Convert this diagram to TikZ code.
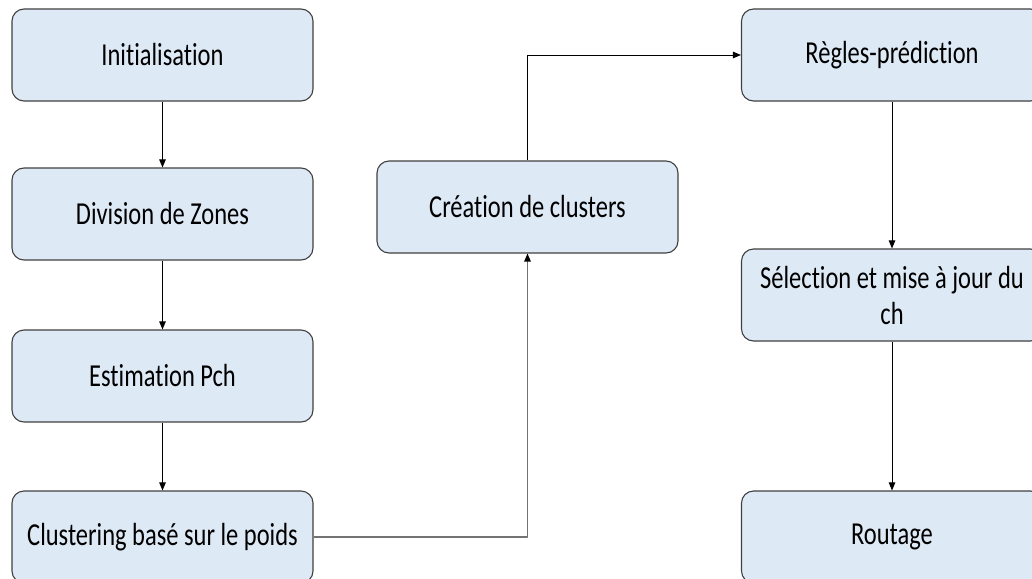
\documentclass[tikz,border=0pt]{standalone}
\usepackage{fontspec}
\setmainfont{Carlito}[FakeStretch=0.765, Ligatures=NoCommon]
\usetikzlibrary{arrows.meta}
\definecolor{fondbleu}{RGB}{222,233,246}
\definecolor{bord}{RGB}{64,64,64}
\tikzset{
	etape/.style={draw=bord, line width=1.1pt, fill=fondbleu, rounded corners=12pt,
		minimum width=301pt, minimum height=92pt, align=center, inner sep=0pt},
	fleche/.style={-{Triangle[length=8pt,width=6.5pt]}, line width=0.9pt},
	flechegrise/.style={-{Triangle[length=8pt,width=6.5pt,color=black]}, line width=1.2pt, draw=black!55},
}
\begin{document}
\begin{tikzpicture}[x=1pt, y=-1pt, line join=round, font=\fontsize{32}{36}\selectfont]
		\useasboundingbox (0,0) rectangle (1032,578);
		% colonne de gauche
		\node[etape] (init) at (162.5,55) {Initialisation};
		\node[etape] (zones) at (162.5,214) {Division de Zones};
		\node[etape] (pch) at (162.5,376) {Estimation Pch};
		\node[etape] (clust) at (162.5,537) {Clustering basé sur le poids};
		% milieu
		\node[etape] (crea) at (527.5,207) {Création de clusters};
		% colonne de droite
		\node[etape] (regles) at (892,55) {Règles-prédiction};
		\node[etape] (selec) at (892,295) {Sélection et mise à jour du\\ch};
		\node[etape] (route) at (892,537) {Routage};
		\draw[fleche] (init)--(zones);
		\draw[fleche] (zones)--(pch);
		\draw[fleche] (pch)--(clust);
		\draw[flechegrise] (clust.east) -| (crea.south);
		\draw[fleche] (crea.north) |- (regles.west);
		\draw[fleche] (regles)--(selec);
		\draw[fleche] (selec)--(route);
\end{tikzpicture}
\end{document}
